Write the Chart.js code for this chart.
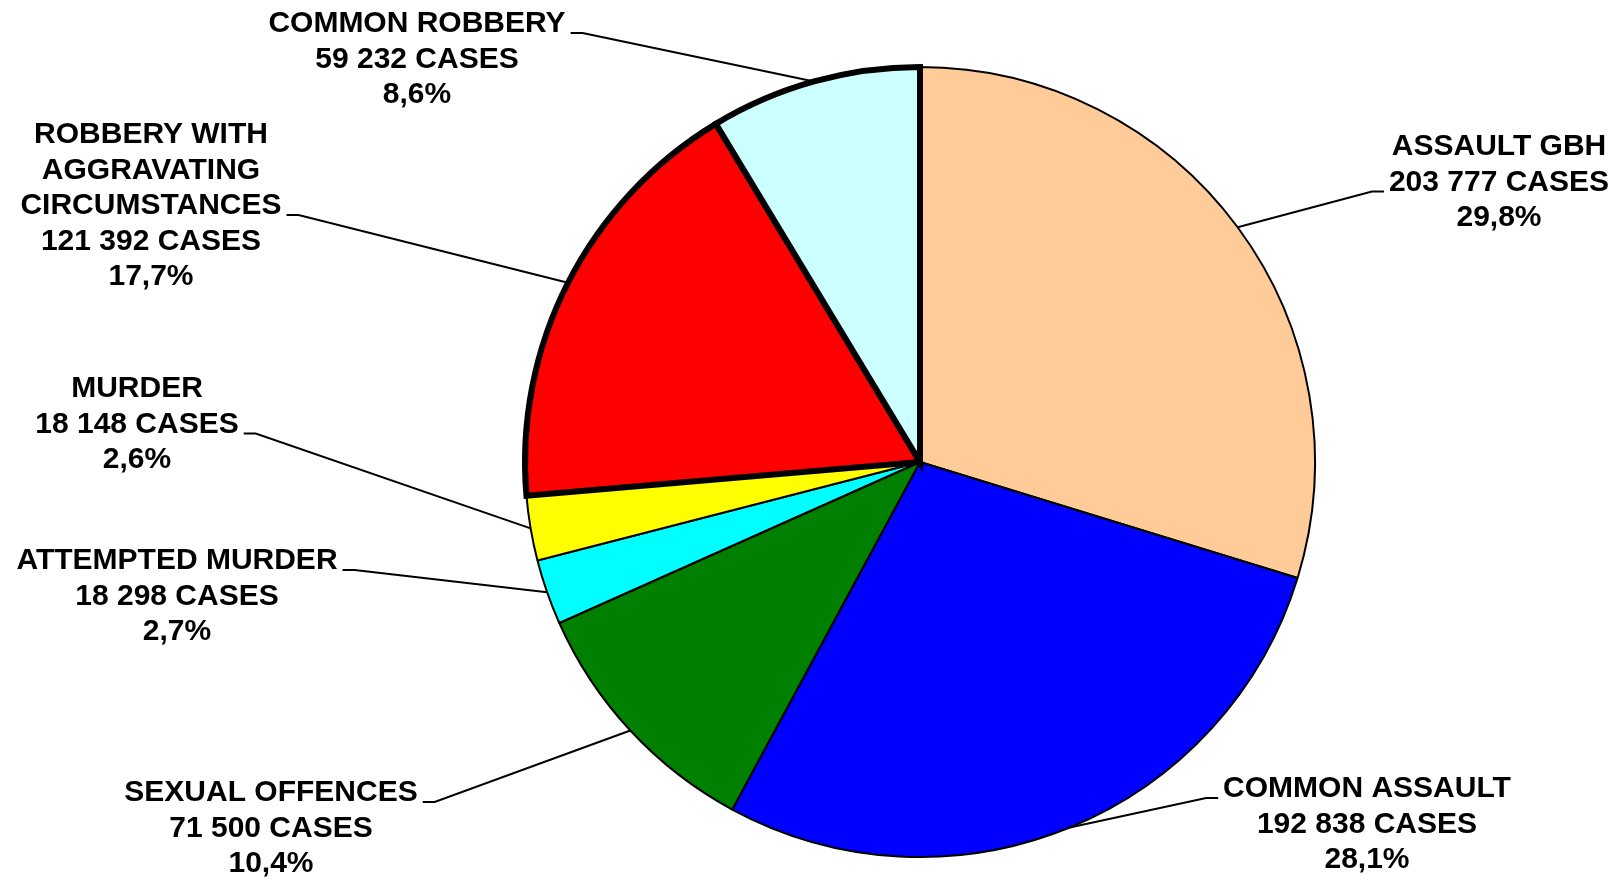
<!DOCTYPE html>
<html>
<head>
<meta charset="utf-8">
<script src="https://cdn.jsdelivr.net/npm/chart.js@4.4.1/dist/chart.umd.min.js"></script>
<style>
html, body { margin: 0; padding: 0; background: #fff; }
</style>
</head>
<body>
<canvas id="crimeChart" width="1621" height="877"></canvas>
<script>
// data (clockwise from 12 o'clock)
var categories = ['ASSAULT GBH', 'COMMON ASSAULT', 'SEXUAL OFFENCES', 'ATTEMPTED MURDER', 'MURDER',
    'ROBBERY WITH\nAGGRAVATING\nCIRCUMSTANCES', 'COMMON ROBBERY'];
var cases = [203777, 192838, 71500, 18298, 18148, 121392, 59232];
var percentLabels = ['29,8%', '28,1%', '10,4%', '2,7%', '2,6%', '17,7%', '8,6%'];

var colors = ['#FFCC99', '#0000FF', '#008000', '#00FFFF', '#FFFF00', '#FF0000', '#CCFFFF'];
var borderWidths = [2, 2, 2, 2, 2, 6, 6];
var joins = ['bevel', 'bevel', 'bevel', 'bevel', 'bevel', 'miter', 'miter'];

// where each label block sits (centre x, centre of first line y), which line gets the leader
var labelPlace = [
    { x: 1499, y: 147, line: 1, side: 'left' },
    { x: 1367, y: 789, line: 0, side: 'left' },
    { x: 271, y: 793, line: 0, side: 'right' },
    { x: 177, y: 561, line: 0, side: 'right' },
    { x: 137, y: 389, line: 1, side: 'right' },
    { x: 151, y: 135, line: 2, side: 'right' },
    { x: 417, y: 24, line: 0, side: 'right' }
];
var lineH = 35.5;

function fmt(n) {
    return n.toString().replace(/\B(?=(\d{3})+(?!\d))/g, ' ');
}

// draw the labels and leader lines after the slices
var sliceLabels = {
    id: 'sliceLabels',
    afterDatasetsDraw: function (chart) {
        var ctx = chart.ctx;
        var arcs = chart.getDatasetMeta(0).data;
        ctx.save();
        ctx.font = 'bold 30px "Liberation Sans", Arial, sans-serif';
        ctx.textAlign = 'center';
        ctx.textBaseline = 'middle';
        ctx.fillStyle = '#000';
        ctx.strokeStyle = '#000';
        ctx.lineWidth = 2;
        arcs.forEach(function (arc, i) {
            var p = labelPlace[i];
            var lines = categories[i].split('\n').concat([fmt(cases[i]) + ' CASES', percentLabels[i]]);
            lines.forEach(function (t, k) {
                ctx.fillText(t, p.x, p.y + k * lineH);
            });

            var a = arc.getProps(['x', 'y', 'startAngle', 'endAngle', 'outerRadius'], true);
            var w = ctx.measureText(lines[p.line]).width;
            var ly = p.y + p.line * lineH + 9;
            var x0 = p.side === 'right' ? p.x + w / 2 + 5 : p.x - w / 2 - 5;
            var x1 = p.side === 'right' ? x0 + 12 : x0 - 12;
            var mid = (a.startAngle + a.endAngle) / 2;
            var ex = a.x + Math.cos(mid) * a.outerRadius;
            var ey = a.y + Math.sin(mid) * a.outerRadius;
            ctx.beginPath();
            ctx.moveTo(x0, ly);
            ctx.lineTo(x1, ly);
            ctx.lineTo(ex, ey);
            ctx.stroke();
        });
        ctx.restore();
    }
};

var ctx = document.getElementById('crimeChart').getContext('2d');
window.crimeChart = new Chart(ctx, {
    type: 'pie',
    data: {
        labels: categories,
        datasets: [{
            data: cases,
            backgroundColor: colors,
            borderColor: '#000',
            borderWidth: borderWidths,
            borderJoinStyle: joins
        }]
    },
    options: {
        responsive: false,
        animation: false,
        radius: 395,
        layout: { padding: { top: 57, bottom: 10, left: 510, right: 291 } },
        plugins: {
            legend: { display: false },
            tooltip: { enabled: false }
        }
    },
    plugins: [sliceLabels]
});
</script>
</body>
</html>
